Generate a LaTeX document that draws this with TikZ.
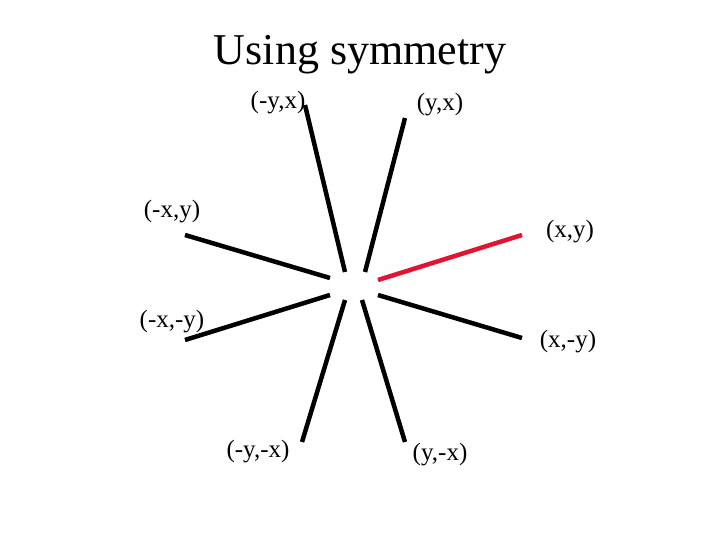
\documentclass[tikz,border=0pt]{standalone}
\usepackage{fontspec}
\setmainfont{Liberation Serif}
\usetikzlibrary{positioning}
\definecolor{rayred}{RGB}{225,20,50}
\tikzset{ray/.style={line width=4.5pt},lbl/.style={font=\fontsize{25}{30}\selectfont}}
\begin{document}
\begin{tikzpicture}[x=1pt,y=-1pt]
		\useasboundingbox (0,0) rectangle (720,540);
		\node[font=\fontsize{44}{52}\selectfont] (title) at (360,55) {Using symmetry};
		% inner and outer ends of the rays
		\coordinate (xy0) at (378,280);   \coordinate (xy) at (522,235);
		\coordinate (xmy0) at (378,295);  \coordinate (xmy) at (522,338);
		\coordinate (yx0) at (365,272);   \coordinate (yx) at (405,118);
		\coordinate (myx0) at (345,272);  \coordinate (myx) at (305,105);
		\coordinate (mxy0) at (330,278);  \coordinate (mxy) at (185,235);
		\coordinate (mxmy0) at (330,295); \coordinate (mxmy) at (185,340);
		\coordinate (mymx0) at (345,300); \coordinate (mymx) at (302,442);
		\coordinate (ymx0) at (362,300);  \coordinate (ymx) at (405,442);
		\draw[ray,rayred] (xy0) -- (xy);
		\foreach \r in {xmy,yx,myx,mxy,mxmy,mymx,ymx}
			\draw[ray] (\r0) -- (\r);
		\node[lbl] (Lxy) at (570,232) {(x,y)};
		\node[lbl] (Lxmy) at (568,342) {(x,-y)};
		\node[lbl] (Lyx) at (440,105) {(y,x)};
		\node[lbl] (Lmyx) at (278,103) {(-y,x)};
		\node[lbl] (Lmxy) at (172,212) {(-x,y)};
		\node[lbl] (Lmxmy) at (172,322) {(-x,-y)};
		\node[lbl] (Lmymx) at (258,452) {(-y,-x)};
		\node[lbl] (Lymx) at (440,455) {(y,-x)};
	\end{tikzpicture}
\end{document}
